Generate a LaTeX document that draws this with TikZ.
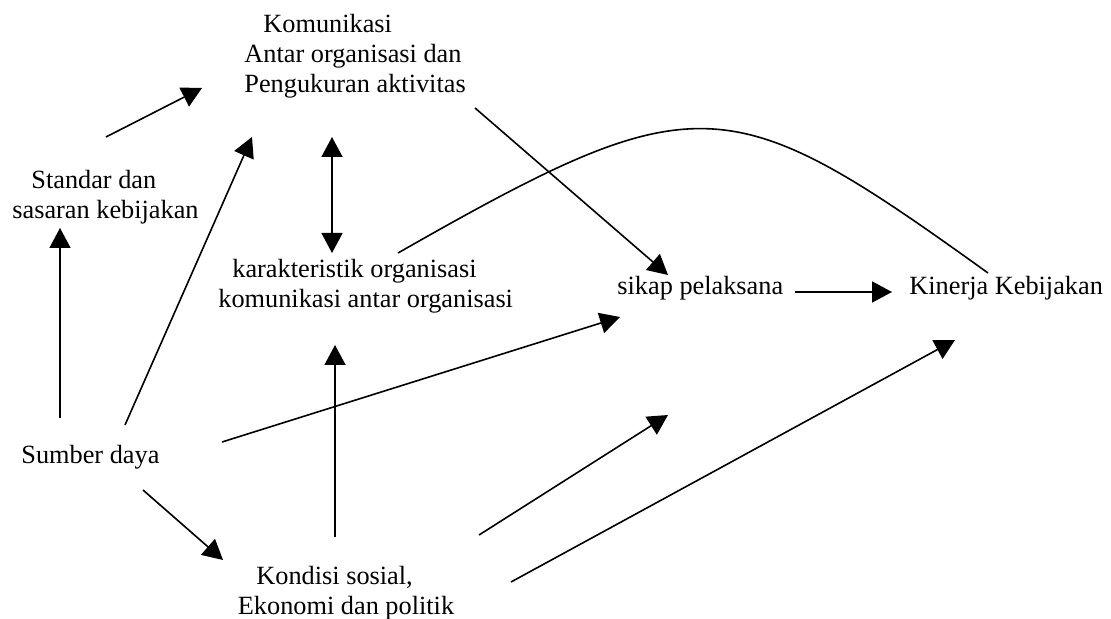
\documentclass[tikz,border=0pt]{standalone}
\usepackage{fontspec}
\setmainfont{Liberation Serif}
\usetikzlibrary{arrows.meta}
\begin{document}
\begin{tikzpicture}[x=0.5pt,y=-0.5pt,
  lbl/.style={inner sep=0pt, font=\fontsize{13.15pt}{15pt}\selectfont, align=left},
  tipa/.tip={Triangle[length=10pt,width=10.5pt]},
  conn/.style={line width=0.8pt, -tipa},
  dconn/.style={line width=0.8pt, tipa-tipa},
  plain/.style={line width=0.8pt}]
\useasboundingbox (0,0) rectangle (1111,619);

% nodes
\node[lbl, anchor=north west] (kom) at (244,14) {\hspace*{9.5pt}Komunikasi\\Antar organisasi dan\\Pengukuran aktivitas};
\node[lbl, anchor=north west] (std) at (12,170) {\hspace*{9.5pt}Standar dan\\sasaran kebijakan};
\node[lbl, anchor=north west] (kar) at (218,259) {\hspace*{7pt}karakteristik organisasi\\komunikasi antar organisasi};
\node[lbl, anchor=base west] (sik) at (617,295) {sikap pelaksana};
\node[lbl, anchor=base west] (kin) at (909,295) {Kinerja Kebijakan};
\node[lbl, anchor=base west] (sum) at (21,463) {Sumber daya};
\node[lbl, anchor=north west] (kon) at (237.5,566) {\hspace*{9.25pt}Kondisi sosial,\\Ekonomi dan politik};

% connector end points
\coordinate (std-kom-s) at (106,137);  \coordinate (std-kom-e) at (202,88);
\coordinate (sum-kom-s) at (125,425);  \coordinate (sum-kom-e) at (252,137);
\coordinate (sum-std-s) at (60,418);   \coordinate (sum-std-e) at (60,228);
\coordinate (kom-kar-s) at (332,137);  \coordinate (kom-kar-e) at (332,253);
\coordinate (kom-sik-s) at (475,108);  \coordinate (kom-sik-e) at (668,275);
\coordinate (kar-kin-s) at (398,253);  \coordinate (kar-kin-e) at (988,273);
\coordinate (sik-kin-s) at (795,292);  \coordinate (sik-kin-e) at (892,292);
\coordinate (sum-sik-s) at (222,442);  \coordinate (sum-sik-e) at (620,317);
\coordinate (sum-kon-s) at (143,490);  \coordinate (sum-kon-e) at (223,560);
\coordinate (kon-kar-s) at (335,537);  \coordinate (kon-kar-e) at (335,345);
\coordinate (kon-free-s) at (479,535); \coordinate (kon-free-e) at (668,415);
\coordinate (kon-kin-s) at (511,582);  \coordinate (kon-kin-e) at (955,340);

% connectors
\draw[conn] (std-kom-s) -- (std-kom-e);
\draw[conn] (sum-kom-s) -- (sum-kom-e);
\draw[conn] (sum-std-s) -- (sum-std-e);
\draw[dconn] (kom-kar-s) -- (kom-kar-e);
\draw[conn] (kom-sik-s) -- (kom-sik-e);
\draw[plain] (kar-kin-s) .. controls (698,82) and (728,86) .. (kar-kin-e);
\draw[conn] (sik-kin-s) -- (sik-kin-e);
\draw[conn] (sum-sik-s) -- (sum-sik-e);
\draw[conn] (sum-kon-s) -- (sum-kon-e);
\draw[conn] (kon-kar-s) -- (kon-kar-e);
\draw[conn] (kon-free-s) -- (kon-free-e);
\draw[conn] (kon-kin-s) -- (kon-kin-e);
\end{tikzpicture}
\end{document}
